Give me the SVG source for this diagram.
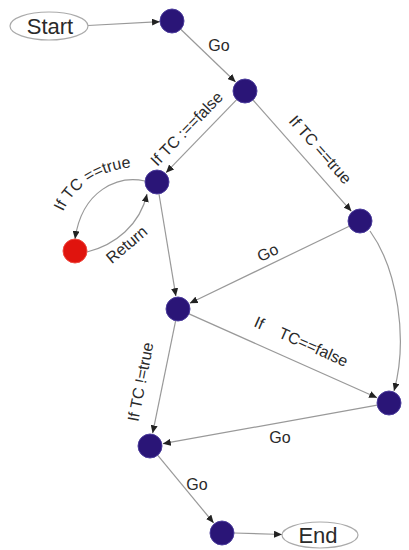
<svg xmlns="http://www.w3.org/2000/svg" width="409" height="550" viewBox="0 0 409 550">
<style>
.e{fill:none;stroke:#999;stroke-width:1.2;marker-end:url(#ah)}
.n{fill:#2a1577;stroke:#4b3c9c;stroke-width:1}
.r{fill:#e0140e;stroke:#f04a40;stroke-width:1}
.t{font-family:"Liberation Sans",Arial,sans-serif;font-size:16px;fill:#2a2a2a;text-anchor:middle}
.big{font-family:"Liberation Sans",Arial,sans-serif;font-size:22px;fill:#2a2a2a;text-anchor:middle}
.term{fill:#fff;stroke:#aaa;stroke-width:1.2}
</style>
<defs>
<marker id="ah" markerUnits="userSpaceOnUse" markerWidth="8" markerHeight="7" refX="8" refY="3.5" orient="auto">
<path d="M0,0 L8,3.5 L0,7 z" fill="#222"/>
</marker>
<path id="tp1" d="M 58,228 C 66,186 105,165 148,167"/>
</defs>
<rect width="409" height="550" fill="#fff"/>
<g id="connectors">
<path class="e" d="M 88,25.5 L 160,21.7"/>
<path class="e" d="M 180.7,29.3 L 235.6,82"/>
<path class="e" d="M 236.7,99.6 L 166,172.7"/>
<path class="e" d="M 253,100 L 351.4,211.3"/>
<path class="e" d="M 145,181 C 118,175 82,190 75,239"/>
<path class="e" d="M 87,252 C 115,245 140,225 147,194"/>
<path class="e" d="M 159,194 L 175.9,296.2"/>
<path class="e" d="M 349.2,226.2 L 189.7,303.3"/>
<path class="e" d="M 370,231 C 398,270 408,340 394,391"/>
<path class="e" d="M 189,313.9 L 377.1,397.7"/>
<path class="e" d="M 175.6,320.8 L 152.6,433.3"/>
<path class="e" d="M 377.2,405.1 L 162.8,443.7"/>
<path class="e" d="M 157.6,455.2 L 213.7,523"/>
<path class="e" d="M 234,533 L 282,534.5"/>
<text class="t" x="219" y="51">Go</text>
<text class="t" transform="translate(187,129) rotate(-46)" y="5">If TC :==false</text>
<text class="t" transform="translate(320,150) rotate(48.5)" y="5">If TC ==true</text>
<text class="t"><textPath href="#tp1" startOffset="50%">If TC ==true</textPath></text>
<text class="t" transform="translate(127,245) rotate(-40)" y="5">Return</text>
<text class="t" transform="translate(268,253) rotate(-26)" y="5">Go</text>
<text class="t" transform="translate(301,342) rotate(24)" y="5">If<tspan dx="18">TC==false</tspan></text>
<text class="t" transform="translate(141,382) rotate(-79)" y="5">If TC !=true</text>
<text class="t" x="280" y="443">Go</text>
<text class="t" x="197" y="490">Go</text>
</g>
<g id="start"><ellipse class="term" cx="49" cy="26" rx="39" ry="14"/><text class="big" x="50" y="34">Start</text></g>
<g id="n1"><circle class="n" cx="172" cy="21" r="12"/></g>
<g id="n2"><circle class="n" cx="245" cy="91" r="12"/></g>
<g id="n3"><circle class="n" cx="157" cy="182" r="12"/></g>
<g id="n4"><circle class="r" cx="75" cy="251" r="12"/></g>
<g id="n5"><circle class="n" cx="360" cy="221" r="12"/></g>
<g id="n6"><circle class="n" cx="178" cy="309" r="12"/></g>
<g id="n7"><circle class="n" cx="389" cy="403" r="12"/></g>
<g id="n8"><circle class="n" cx="150" cy="446" r="12"/></g>
<g id="n9"><circle class="n" cx="222" cy="533" r="12"/></g>
<g id="end"><ellipse class="term" cx="320" cy="535" rx="38" ry="13"/><text class="big" x="318" y="543">End</text></g>
</svg>
